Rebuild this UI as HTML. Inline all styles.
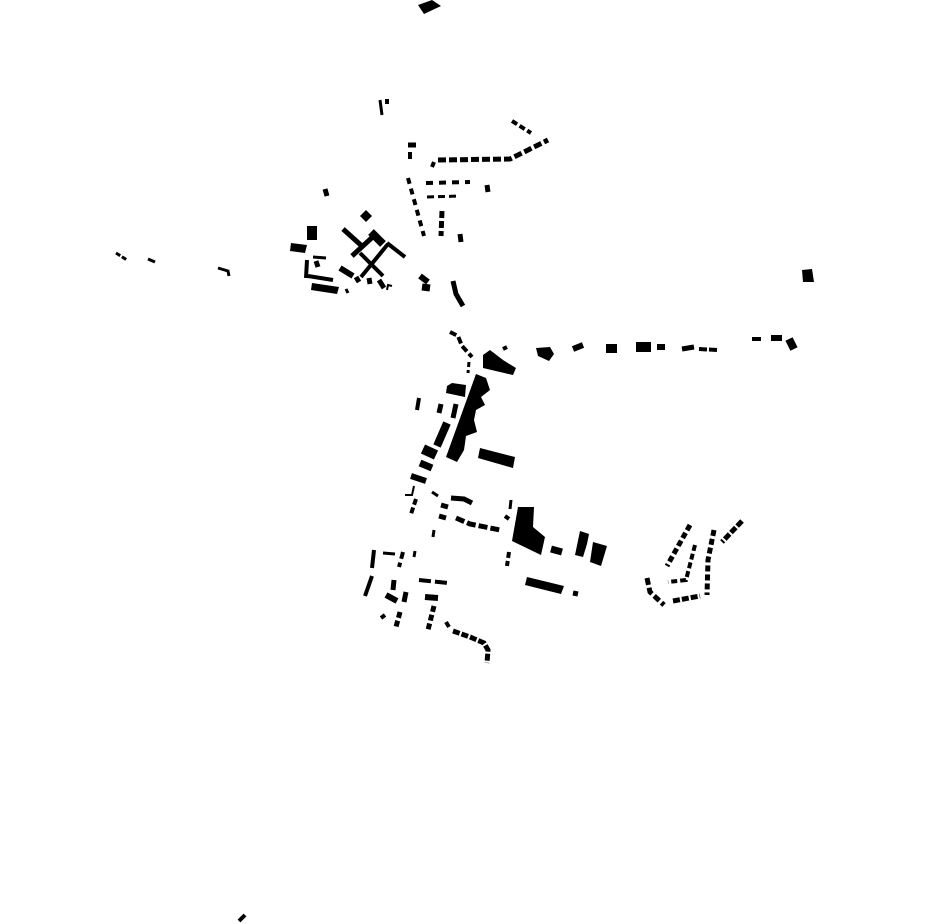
<!DOCTYPE html>
<html><head><style>html,body{margin:0;padding:0;background:#fff}svg{display:block}</style></head>
<body>
<svg width="930" height="924" viewBox="0 0 930 924" xmlns="http://www.w3.org/2000/svg">
<g fill="#000" stroke="none">
<polygon points="418,5 432,0 441,6 424,14"/>
<polygon points="802,270 812,269 814,282 803,282"/>
<polygon points="483,355 490,350 503,360 516,368 513,375 483,368"/>
<polygon points="536,348 550,347 554,354 549,361 538,356"/>
<polygon points="476,374 486,378 490,390 481,397 485,405 476,410 474,420 477,432 466,436 464,450 457,462 446,457"/>
<polygon points="447,386 452,383 466,385 465,397 446,393"/>
<polygon points="480,448 515,457 513,468 478,458"/>
<polygon points="518,507 534,507 533,527 545,537 541,555 512,541"/>
<polygon points="580,531 589,534 587,544 583,557 575,555"/>
<polygon points="593,542 607,546 601,566 590,562"/>
<polygon points="527,577 564,586 561,594 525,585"/>
<rect x="606" y="344" width="11" height="9"/>
<rect x="636" y="342" width="15" height="10"/>
<rect x="307" y="226" width="10" height="14"/>
<rect x="385" y="99" width="4" height="5"/>
<polygon points="291,243 307,245 305,253 290,251"/>
<polygon points="312,283 339,287 337,294 311,290"/>
<polygon points="366,210 372,216 366,222 360,216"/>
</g>
<g fill="none" stroke="#000" stroke-width="5" stroke-linecap="butt">
<line x1="380" y1="100" x2="382" y2="115" stroke-width="3"/>
<line x1="408" y1="145" x2="416" y2="145"/>
<line x1="410" y1="152" x2="410" y2="159" stroke-width="4"/>
<polyline points="438,160 510,159 548,140" stroke-dasharray="8,3"/>
<line x1="512" y1="121" x2="531" y2="133" stroke-dasharray="6,3" stroke-width="4"/>
<line x1="434" y1="162" x2="432" y2="167" stroke-width="4"/>
<line x1="426" y1="183" x2="470" y2="182" stroke-dasharray="7,6" stroke-width="4"/>
<line x1="487" y1="185" x2="488" y2="192"/>
<line x1="427" y1="197" x2="460" y2="196" stroke-dasharray="7,4" stroke-width="3"/>
<line x1="408" y1="178" x2="424" y2="236" stroke-dasharray="6,5" stroke-width="4"/>
<line x1="442" y1="211" x2="441" y2="236" stroke-dasharray="7,3"/>
<line x1="460" y1="234" x2="461" y2="242"/>
<line x1="325" y1="189" x2="327" y2="196"/>
<line x1="343" y1="229" x2="363" y2="247" stroke-width="5"/>
<line x1="352" y1="256" x2="377" y2="233" stroke-width="5"/>
<line x1="371" y1="232" x2="383" y2="244" stroke-width="8"/>
<line x1="387" y1="243" x2="405" y2="257" stroke-width="4"/>
<line x1="360" y1="253" x2="383" y2="276" stroke-width="4"/>
<line x1="361" y1="277" x2="388" y2="244" stroke-width="4"/>
<line x1="307" y1="260" x2="306" y2="278" stroke-width="4"/>
<line x1="308" y1="276" x2="333" y2="280" stroke-width="4"/>
<line x1="313" y1="257" x2="326" y2="258" stroke-width="3"/>
<line x1="316" y1="261" x2="318" y2="267" stroke-width="5"/>
<line x1="340" y1="268" x2="353" y2="276" stroke-width="6"/>
<line x1="356" y1="277" x2="359" y2="282" stroke-width="5"/>
<line x1="369" y1="278" x2="370" y2="284" stroke-width="5"/>
<line x1="379" y1="280" x2="384" y2="288" stroke-width="5"/>
<polyline points="387,290 388,285 392,286" stroke-width="2"/>
<line x1="346" y1="289" x2="348" y2="293" stroke-width="3"/>
<line x1="420" y1="276" x2="428" y2="282" stroke-width="6"/>
<line x1="422" y1="287" x2="430" y2="288" stroke-width="7"/>
<polyline points="453,281 456,294 463,306" stroke-width="5"/>
<line x1="116" y1="253" x2="127" y2="260" stroke-dasharray="5,2" stroke-width="3"/>
<line x1="148" y1="259" x2="155" y2="262" stroke-width="3"/>
<polyline points="218,268 228,271 229,276" stroke-width="3"/>
<polyline points="450,332 458,336 462,346 472,357" stroke-dasharray="7,3" stroke-width="4"/>
<line x1="469" y1="362" x2="468" y2="373" stroke-dasharray="5,3" stroke-width="3"/>
<line x1="503" y1="349" x2="507" y2="347" stroke-width="4"/>
<line x1="573" y1="349" x2="583" y2="345" stroke-width="6"/>
<line x1="657" y1="347" x2="665" y2="347" stroke-width="6"/>
<line x1="682" y1="349" x2="694" y2="347" stroke-width="5"/>
<line x1="699" y1="349" x2="717" y2="350" stroke-dasharray="8,2" stroke-width="4"/>
<line x1="752" y1="339" x2="761" y2="339" stroke-width="4"/>
<line x1="771" y1="338" x2="782" y2="338" stroke-width="6"/>
<line x1="789" y1="339" x2="794" y2="349" stroke-width="8"/>
<line x1="419" y1="398" x2="417" y2="410" stroke-width="4"/>
<line x1="441" y1="404" x2="439" y2="413" stroke-width="5"/>
<line x1="456" y1="404" x2="453" y2="418" stroke-width="5"/>
<line x1="447" y1="423" x2="437" y2="446" stroke-width="8"/>
<line x1="423" y1="449" x2="436" y2="455" stroke-width="10"/>
<line x1="420" y1="463" x2="432" y2="468" stroke-width="7"/>
<line x1="411" y1="476" x2="426" y2="481" stroke-width="6"/>
<polyline points="405,495 412,495 414,486" stroke-width="2"/>
<line x1="416" y1="499" x2="411" y2="514" stroke-dasharray="6,3" stroke-width="4"/>
<line x1="432" y1="492" x2="438" y2="496" stroke-width="3"/>
<line x1="441" y1="505" x2="448" y2="507" stroke-width="5"/>
<line x1="439" y1="516" x2="446" y2="518" stroke-width="5"/>
<polyline points="451,498 464,499 472,503" stroke-width="5"/>
<polyline points="456,518 470,524 500,530" stroke-dasharray="9,3" stroke-width="5"/>
<line x1="511" y1="500" x2="510" y2="509" stroke-width="3"/>
<line x1="505" y1="516" x2="509" y2="519" stroke-width="4"/>
<line x1="434" y1="530" x2="433" y2="537" stroke-width="3"/>
<line x1="551" y1="549" x2="562" y2="552" stroke-width="7"/>
<line x1="509" y1="552" x2="507" y2="566" stroke-dasharray="6,3" stroke-width="4"/>
<line x1="573" y1="593" x2="578" y2="594" stroke-width="5"/>
<line x1="374" y1="550" x2="372" y2="568" stroke-width="4"/>
<line x1="383" y1="553" x2="395" y2="554" stroke-width="3"/>
<line x1="403" y1="552" x2="399" y2="567" stroke-dasharray="7,4" stroke-width="4"/>
<line x1="415" y1="551" x2="414" y2="557" stroke-width="3"/>
<line x1="372" y1="576" x2="365" y2="596" stroke-width="4"/>
<line x1="394" y1="580" x2="393" y2="590" stroke-width="5"/>
<line x1="386" y1="595" x2="397" y2="601" stroke-width="6"/>
<line x1="406" y1="592" x2="404" y2="602" stroke-width="5"/>
<line x1="381" y1="618" x2="385" y2="615" stroke-width="4"/>
<line x1="400" y1="612" x2="396" y2="627" stroke-dasharray="6,3" stroke-width="5"/>
<line x1="419" y1="580" x2="448" y2="583" stroke-dasharray="12,4" stroke-width="4"/>
<line x1="425" y1="597" x2="438" y2="598" stroke-width="6"/>
<line x1="434" y1="606" x2="428" y2="630" stroke-dasharray="6,3" stroke-width="5"/>
<line x1="446" y1="622" x2="449" y2="627" stroke-width="4"/>
<polyline points="453,631 470,637 484,643 488,650 487,663" stroke-dasharray="7,2" stroke-width="5"/>
<line x1="690" y1="525" x2="667" y2="566" stroke-dasharray="6,3" stroke-width="5"/>
<polyline points="714,530 708,560 707,595" stroke-dasharray="6,3" stroke-width="5"/>
<line x1="742" y1="521" x2="722" y2="542" stroke-dasharray="7,2" stroke-width="5"/>
<polyline points="695,545 686,580 668,582" stroke-dasharray="6,3" stroke-width="4"/>
<polyline points="647,578 650,592 664,605" stroke-dasharray="7,3" stroke-width="5"/>
<line x1="673" y1="601" x2="700" y2="596" stroke-dasharray="7,2" stroke-width="5"/>
<line x1="239" y1="921" x2="245" y2="915" stroke-width="4"/>
</g>
</svg>
</body></html>
